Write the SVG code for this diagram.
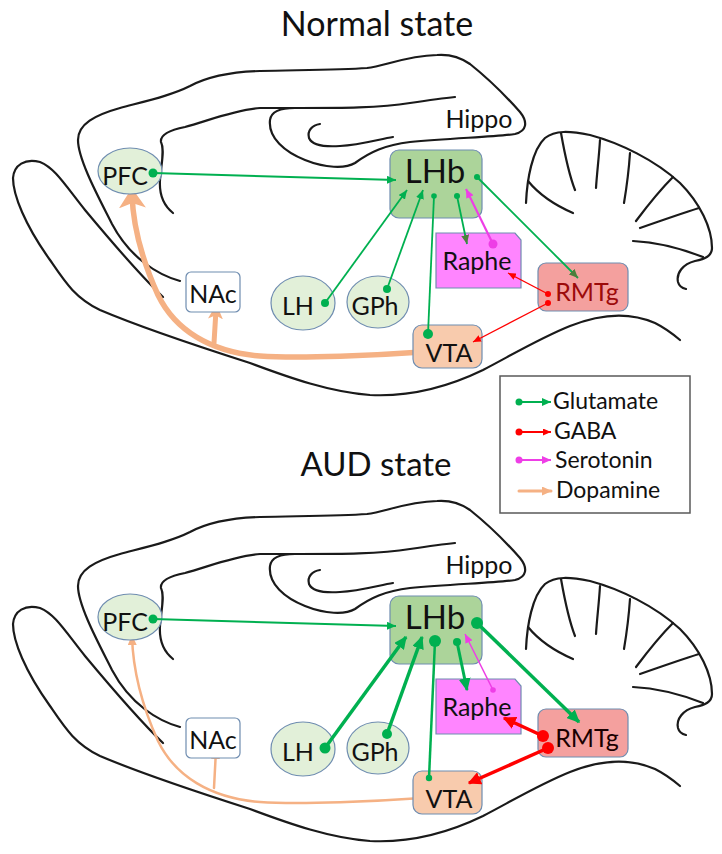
<svg xmlns="http://www.w3.org/2000/svg" xmlns:xlink="http://www.w3.org/1999/xlink" width="722" height="854" viewBox="0 0 722 854">
<style>
text{font-family:Lato,"Liberation Sans",sans-serif;fill:#111;}
.title{font-size:33px;text-anchor:middle;}
.lbl{font-size:25px;text-anchor:middle;}
.big{font-size:33px;text-anchor:middle;}
.leg{font-size:23px;}
.outl{fill:none;stroke:#1a1a1a;stroke-width:2.2;stroke-linecap:round;stroke-linejoin:round;}
.nd{stroke:#6f8db0;stroke-width:1.2;}
.grn{fill:#e2f0d9;}
.lhb{fill:#acd49a;}
.g{stroke:#00b050;fill:none;}
.r{stroke:#ff0000;fill:none;}
.m{stroke:#ee3ee6;fill:none;}
.o{stroke:#f5b184;fill:none;stroke-linecap:round;}
.gd{fill:#00b050;}
.rd{fill:#ff0000;}
.md{fill:#ee3ee6;}
</style>
<defs>
<marker id="gS" viewBox="0 0 10 10" refX="10" refY="5" markerWidth="9" markerHeight="8" markerUnits="userSpaceOnUse" orient="auto" preserveAspectRatio="none"><path d="M0,0L10,5L0,10z" fill="#00b050"/></marker>
<marker id="gO" viewBox="0 0 10 10" refX="10" refY="5" markerWidth="9" markerHeight="8" markerUnits="userSpaceOnUse" orient="auto" preserveAspectRatio="none"><path d="M0,0L10,5L0,10z" fill="#4c7f3c"/></marker>
<marker id="gL" viewBox="0 0 10 10" refX="9" refY="5" markerWidth="13" markerHeight="12" markerUnits="userSpaceOnUse" orient="auto" preserveAspectRatio="none"><path d="M0,0L10,5L0,10z" fill="#00b050"/></marker>
<marker id="rS" viewBox="0 0 10 10" refX="10" refY="5" markerWidth="8" markerHeight="7" markerUnits="userSpaceOnUse" orient="auto" preserveAspectRatio="none"><path d="M0,0L10,5L0,10z" fill="#ff0000"/></marker>
<marker id="rL" viewBox="0 0 10 10" refX="9" refY="5" markerWidth="13" markerHeight="13" markerUnits="userSpaceOnUse" orient="auto" preserveAspectRatio="none"><path d="M0,0L10,5L0,10z" fill="#ff0000"/></marker>
<marker id="mS" viewBox="0 0 10 10" refX="10" refY="5" markerWidth="9" markerHeight="8" markerUnits="userSpaceOnUse" orient="auto" preserveAspectRatio="none"><path d="M0,0L10,5L0,10z" fill="#ee3ee6"/></marker>
<marker id="oT" viewBox="0 0 10 10" refX="7" refY="5" markerWidth="20" markerHeight="27" markerUnits="userSpaceOnUse" orient="auto" preserveAspectRatio="none"><path d="M0,0L10,5L0,10L2.5,5z" fill="#f5b184"/></marker>
<marker id="oN" viewBox="0 0 10 10" refX="6" refY="5" markerWidth="15" markerHeight="15" markerUnits="userSpaceOnUse" orient="auto" preserveAspectRatio="none"><path d="M0,0L10,5L0,10L2.5,5z" fill="#f5b184"/></marker>
<marker id="oS" viewBox="0 0 10 10" refX="9" refY="5" markerWidth="10" markerHeight="9" markerUnits="userSpaceOnUse" orient="auto" preserveAspectRatio="none"><path d="M0,0L10,5L0,10z" fill="#f5b184"/></marker>
<g id="brain">
<path class="outl" d="M180,281 C158,275 130,258 112,224 C100,200 78,160 78,140 C78,124 95,115 120,108 C150,100 172,95 190,86 C205,78 225,72 260,71 C300,70 340,70 367,68 C385,66 405,56 437,55 C450,54 460,57 470,64 C485,76 505,95 520,112 C528,122 527,131 515,134 C495,137 450,138 410,142 C385,145 370,152 355,163 C345,169 325,168 305,160 C285,152 268,138 270,120 C271,112 280,108 295,108"/>
<path class="outl" d="M173,213 C163,205 159,195 160,180 C161,165 165,150 161,142 C160,135 170,130 185,127 C210,120 235,110 260,108 L300,108 C340,108 380,108 410,103 C430,100 445,98 455,97" stroke-width="2.4"/>
<path class="outl" d="M320,124 C312,125 307,131 309,138 C312,145 325,147 340,146 C360,145 380,139 393,137"/>
<path class="outl" d="M163,297 C140,275 110,240 85,210 C65,185 55,168 40,162 C25,158 14,165 13,178 C13,195 25,225 50,260 C65,282 75,298 100,310 C140,327 200,347 250,363 C290,378 330,392 370,395 C410,397 450,386 483,370 C510,356 540,338 570,326 C600,314 630,312 655,323 C665,328 673,334 680,340"/>
<path class="outl" stroke-width="1.8" d="M526,203 C527,180 532,150 545,138 C555,130 570,131 590,135 C620,143 655,160 680,183 C700,203 712,228 712,248 C712,256 705,259 695,261 C683,264 676,273 678,282 C679,286 682,288 686,289"/>
<path class="outl" stroke-width="1.8" d="M528,181 C537,192 550,203 573,213 M561,133 C564,150 568,172 575,190 M600,140 C599,157 597,172 596,188 M630,153 C629,168 627,185 624,203 M673,177 C662,188 648,205 636,221 M699,208 C680,214 660,221 640,228 M633,241 C655,242 680,248 703,257"/>
<text x="479" y="128" class="lbl">Hippo</text>
</g>
</defs>

<text x="377" y="36" class="title" style="font-size:34px">Normal state</text>
<text x="376" y="476" class="title">AUD state</text>

<!-- ===== Normal state ===== -->
<g id="normal-state">
<use xlink:href="#brain" href="#brain"/>
<g id="normal-dopamine" class="connectors">
<path class="o" stroke-width="5.5" d="M422,352 C380,355 300,359 260,356 C210,352 175,330 158,295 C143,262 133,228 132,194" marker-end="url(#oT)"/>
<path class="o" stroke-width="5" d="M214,343 L216,310" marker-end="url(#oN)"/>
</g>
<g id="normal-nodes">
<g id="pfc-n"><ellipse class="nd grn" cx="130" cy="171" rx="32" ry="23"/><text x="125" y="185" class="lbl">PFC</text></g>
<g id="nac-n"><rect class="nd" fill="#fff" x="186" y="272" width="54" height="40" rx="5"/><text x="213" y="303" class="lbl">NAc</text></g>
<g id="lh-n"><ellipse class="nd grn" cx="303" cy="303" rx="32" ry="27"/><text x="298" y="315" class="lbl">LH</text></g>
<g id="gph-n"><ellipse class="nd grn" cx="378" cy="302" rx="31" ry="26"/><text x="375" y="315" class="lbl">GPh</text></g>
<g id="lhb-n"><rect class="nd lhb" x="390" y="150" width="92" height="68" rx="9"/><text x="435" y="183" class="big">LHb</text></g>
<g id="raphe-n"><path class="nd" fill="#ff85ff" d="M436,233 L515,233 L521,240 L521,288 L436,288 Z"/><text x="477" y="270" class="lbl">Raphe</text></g>
<g id="rmtg-n"><rect class="nd" fill="#f4a09e" x="538" y="263" width="90" height="48" rx="8"/><text x="587" y="301" class="lbl" style="fill:#9c0a0a">RMTg</text></g>
<g id="vta-n"><rect class="nd" fill="#f8cbad" x="413" y="325" width="69" height="43" rx="9"/><text x="449" y="362" class="lbl">VTA</text></g>
</g>
<g id="normal-connectors" class="connectors">
<path class="g" stroke-width="2" d="M153,173 L396,180" marker-end="url(#gS)"/><circle class="gd" cx="153" cy="173" r="4.5"/>
<path class="g" stroke-width="1.8" d="M325,303 L407,190" marker-end="url(#gS)"/><circle class="gd" cx="325" cy="303" r="4"/>
<path class="g" stroke-width="1.8" d="M387,289 L423,190" marker-end="url(#gS)"/><circle class="gd" cx="387" cy="289" r="4"/>
<path class="g" stroke-width="1.8" d="M434,196 L428,334"/><circle class="gd" cx="434" cy="196" r="2.8"/><circle class="gd" cx="428" cy="334" r="5"/>
<path class="g" stroke-width="1.8" d="M457,196 L467,244" marker-end="url(#gO)"/><circle class="gd" cx="457" cy="196" r="3"/>
<path class="m" stroke-width="2.2" d="M493,244 L466,189" marker-end="url(#mS)"/><circle class="md" cx="493" cy="244" r="4.5"/>
<path class="g" stroke-width="1.8" d="M477,177 L578,278" marker-end="url(#gO)"/><circle class="gd" cx="477" cy="177" r="3"/>
<path class="r" stroke-width="1.3" d="M548,294 L508,273" marker-end="url(#rS)"/><circle class="rd" cx="548" cy="294" r="3"/>
<path class="r" stroke-width="1.3" d="M548,303 L473,342" marker-end="url(#rS)"/><circle class="rd" cx="548" cy="303" r="3"/>
</g>
</g>

<!-- ===== AUD state ===== -->
<g id="aud-state" transform="translate(0,446)">
<use xlink:href="#brain" href="#brain"/>
<g id="aud-dopamine" class="connectors">
<path class="o" stroke-width="2.5" d="M422,352 C380,355 300,359 260,356 C210,352 175,330 158,295 C143,262 133,228 132,190" marker-end="url(#oS)"/>
<path class="o" stroke-width="2.5" d="M214,342 L216,304" marker-end="url(#oS)"/>
</g>
<g id="aud-nodes">
<g id="pfc-a"><ellipse class="nd grn" cx="130" cy="171" rx="32" ry="23"/><text x="125" y="185" class="lbl">PFC</text></g>
<g id="nac-a"><rect class="nd" fill="#fff" x="186" y="272" width="54" height="40" rx="5"/><text x="213" y="303" class="lbl">NAc</text></g>
<g id="lh-a"><ellipse class="nd grn" cx="303" cy="303" rx="32" ry="27"/><text x="298" y="315" class="lbl">LH</text></g>
<g id="gph-a"><ellipse class="nd grn" cx="378" cy="302" rx="31" ry="26"/><text x="375" y="315" class="lbl">GPh</text></g>
<g id="lhb-a"><rect class="nd lhb" x="390" y="150" width="92" height="68" rx="9"/><text x="435" y="183" class="big">LHb</text></g>
<g id="raphe-a"><path class="nd" fill="#ff85ff" d="M436,233 L515,233 L521,240 L521,288 L436,288 Z"/><text x="477" y="270" class="lbl">Raphe</text></g>
<g id="rmtg-a"><rect class="nd" fill="#f4a09e" x="538" y="263" width="90" height="48" rx="8"/><text x="587" y="301" class="lbl" style="fill:#1a0000">RMTg</text></g>
<g id="vta-a"><rect class="nd" fill="#f8cbad" x="413" y="325" width="69" height="43" rx="9"/><text x="449" y="362" class="lbl">VTA</text></g>
</g>
<g id="aud-connectors" class="connectors">
<path class="g" stroke-width="2" d="M153,173 L396,180" marker-end="url(#gS)"/><circle class="gd" cx="153" cy="173" r="4.5"/>
<path class="g" stroke-width="3.5" d="M325,302 L406,191" marker-end="url(#gL)"/><circle class="gd" cx="325" cy="302" r="5.5"/>
<path class="g" stroke-width="3.5" d="M387,288 L422,191" marker-end="url(#gL)"/><circle class="gd" cx="387" cy="288" r="5"/>
<path class="g" stroke-width="2.5" d="M435,195 L429,332"/><circle class="gd" cx="435" cy="195" r="6"/><circle class="gd" cx="429" cy="332" r="3.2"/>
<path class="g" stroke-width="3" d="M457,196 L467,244" marker-end="url(#gL)"/><circle class="gd" cx="457" cy="196" r="4"/>
<path class="m" stroke-width="1.5" d="M493,244 L465,188" marker-end="url(#mS)"/><circle class="md" cx="493" cy="244" r="2.8"/>
<path class="g" stroke-width="3.5" d="M477,177 L579,276" marker-end="url(#gL)"/><circle class="gd" cx="477" cy="177" r="6"/>
<path class="r" stroke-width="3.5" d="M543,290 L504,272" marker-end="url(#rL)"/><circle class="rd" cx="543" cy="290" r="6"/>
<path class="r" stroke-width="3.5" d="M548,302 L469,337" marker-end="url(#rL)"/><circle class="rd" cx="548" cy="302" r="6"/>
</g>
</g>

<!-- ===== Legend ===== -->
<g id="legend">
<rect x="500" y="376" width="190" height="137" fill="#fff" stroke="#595959" stroke-width="1.5"/>
<path class="g" stroke-width="2" d="M519,402 L551,402" marker-end="url(#gS)"/><circle class="gd" cx="519" cy="402" r="3.5"/>
<text x="553" y="409" class="leg">Glutamate</text>
<path class="r" stroke-width="2" d="M519,432 L551,432" marker-end="url(#rS)"/><circle class="rd" cx="519" cy="432" r="3.5"/>
<text x="554" y="439" class="leg">GABA</text>
<path class="m" stroke-width="2" d="M519,460 L551,460" marker-end="url(#mS)"/><circle class="md" cx="519" cy="460" r="3.5"/>
<text x="555" y="468" class="leg">Serotonin</text>
<path class="o" stroke-width="3" d="M519,491 L551,491" marker-end="url(#oS)"/>
<text x="556" y="498" class="leg">Dopamine</text>
</g>
</svg>
